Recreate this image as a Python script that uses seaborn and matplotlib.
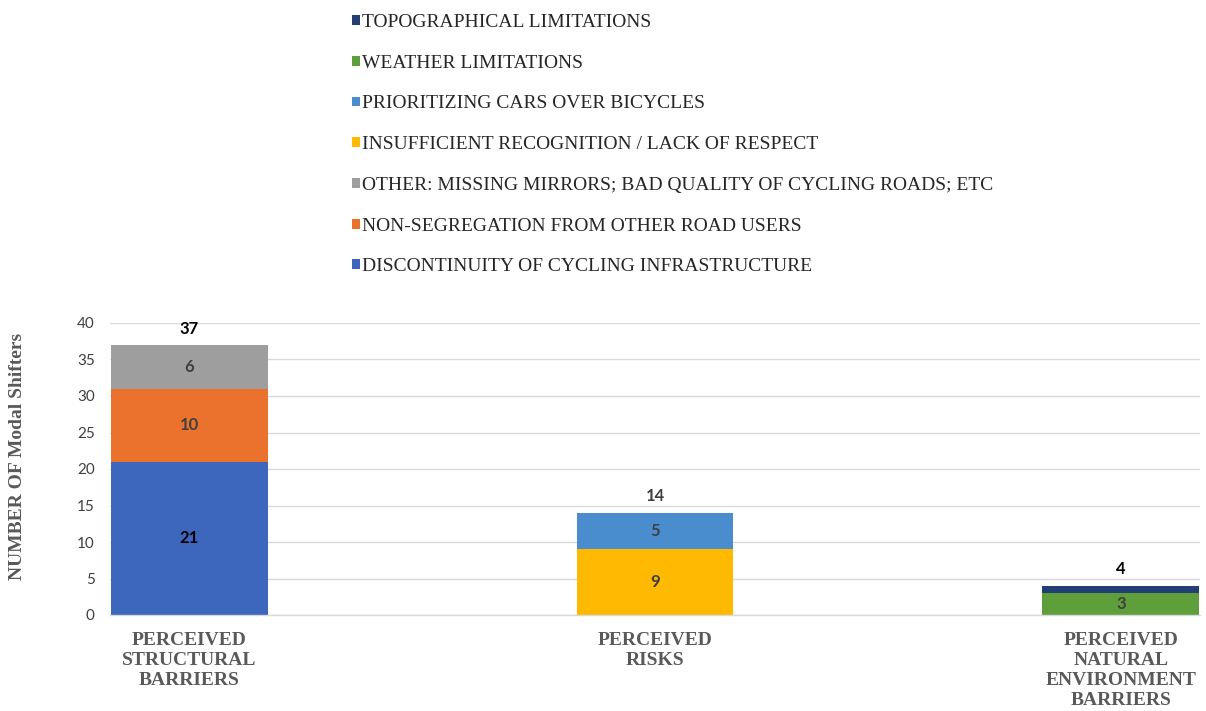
import numpy as np
import pandas as pd
import matplotlib
matplotlib.use("Agg")
import matplotlib.pyplot as plt
import seaborn as sns
from matplotlib.patches import Patch

# ---------------- data ----------------
categories = ["PERCEIVED\nSTRUCTURAL\nBARRIERS",
              "PERCEIVED\nRISKS",
              "PERCEIVED\nNATURAL\nENVIRONMENT\nBARRIERS"]

series_names = [
    "DISCONTINUITY OF CYCLING INFRASTRUCTURE",
    "NON-SEGREGATION FROM OTHER ROAD USERS",
    "OTHER: MISSING MIRRORS; BAD QUALITY OF CYCLING ROADS; ETC",
    "INSUFFICIENT RECOGNITION / LACK OF RESPECT",
    "PRIORITIZING CARS OVER BICYCLES",
    "WEATHER LIMITATIONS",
    "TOPOGRAPHICAL LIMITATIONS",
]
discontinuity = [21, 0, 0]
non_segregation = [10, 0, 0]
other = [6, 0, 0]
insufficient = [0, 9, 0]
prioritizing = [0, 5, 0]
weather = [0, 0, 3]
topographical = [0, 0, 1]
totals = [37, 14, 4]
y_ticks = [0, 5, 10, 15, 20, 25, 30, 35, 40]

series_values = [discontinuity, non_segregation, other, insufficient,
                 prioritizing, weather, topographical]
colors = ["#3D66BD", "#EA722C", "#9E9E9E", "#FFB900", "#4A8DCF", "#5F9F3B", "#233F76"]
label_colors = ["#000000", "#404040", "#404040", "#404040", "#404040", "#404040", "#404040"]
total_colors = ["#000000", "#404040", "#000000"]

SERIF = "Liberation Serif"
SANS = "Lato"

sns.set_theme(style="white")
plt.rcParams["font.family"] = ["DejaVu Sans"]

fig = plt.figure(figsize=(12.06, 7.11), dpi=100)
ax = fig.add_axes([110 / 1206, 1 - 615 / 711, 1090 / 1206, 292 / 711])

df = pd.DataFrame(series_values, index=series_names, columns=categories)
cum = df.cumsum(axis=0)

# draw cumulative bars from the top series down (stacked look)
for i in reversed(range(len(series_names))):
    sns.barplot(x=categories, y=cum.iloc[i].values, color=colors[i],
                width=0.337, saturation=1, linewidth=0, ax=ax)

# segment labels
for i, name in enumerate(series_names):
    for j, cat in enumerate(categories):
        v = df.iloc[i, j]
        if v >= 2:
            mid = cum.iloc[i, j] - v / 2
            ax.text(j, mid, f"{v}", ha="center", va="center",
                    fontfamily=SANS, fontweight="bold", fontsize=12,
                    color=label_colors[i])

# total labels
for j, t in enumerate(totals):
    ax.annotate(f"{t}", xy=(j, t), xytext=(0, 6), textcoords="offset points",
                ha="center", va="bottom", fontfamily=SANS, fontweight="bold",
                fontsize=12, color=total_colors[j], annotation_clip=False)

ax.set_ylim(0, 40)
ax.set_xlim(-0.17, 2.17)
ax.set_yticks(y_ticks)
ax.yaxis.grid(True, color="#D9D9D9", linewidth=1)
ax.set_axisbelow(True)
for s in ["top", "right", "left"]:
    ax.spines[s].set_visible(False)
ax.spines["bottom"].set_color("#D9D9D9")
ax.spines["bottom"].set_linewidth(1)
ax.set_xlabel("")
ax.set_ylabel("")
ax.tick_params(axis="y", length=0, pad=11, labelcolor="#404040")
ax.tick_params(axis="x", length=0, pad=12)
for lab in ax.get_yticklabels():
    lab.set_fontfamily(SANS)
    lab.set_fontsize(11)
ax.set_xticks(range(len(categories)))
ax.set_xticklabels(categories, fontfamily=SERIF, fontweight="bold",
                   fontsize=14, color="#595959", ha="center", va="top",
                   linespacing=1.25)

fig.text(18 / 1206, 1 - 456 / 711, "NUMBER OF Modal Shifters", rotation=90,
         ha="center", va="center", fontfamily=SERIF, fontweight="bold",
         fontsize=14, color="#595959")

handles = [Patch(facecolor=colors[i], edgecolor="none", label=series_names[i])
           for i in reversed(range(len(series_names)))]
leg = fig.legend(handles=handles, loc="upper left",
                 bbox_to_anchor=(352 / 1206, 1 - 14 / 711), frameon=False,
                 prop={"family": SERIF, "size": 14}, labelspacing=1.22,
                 handlelength=0.4, handleheight=0.4, handletextpad=0.12,
                 borderpad=0, borderaxespad=0)
for t in leg.get_texts():
    t.set_color("#262626")

fig.savefig("out.png", dpi=100)
